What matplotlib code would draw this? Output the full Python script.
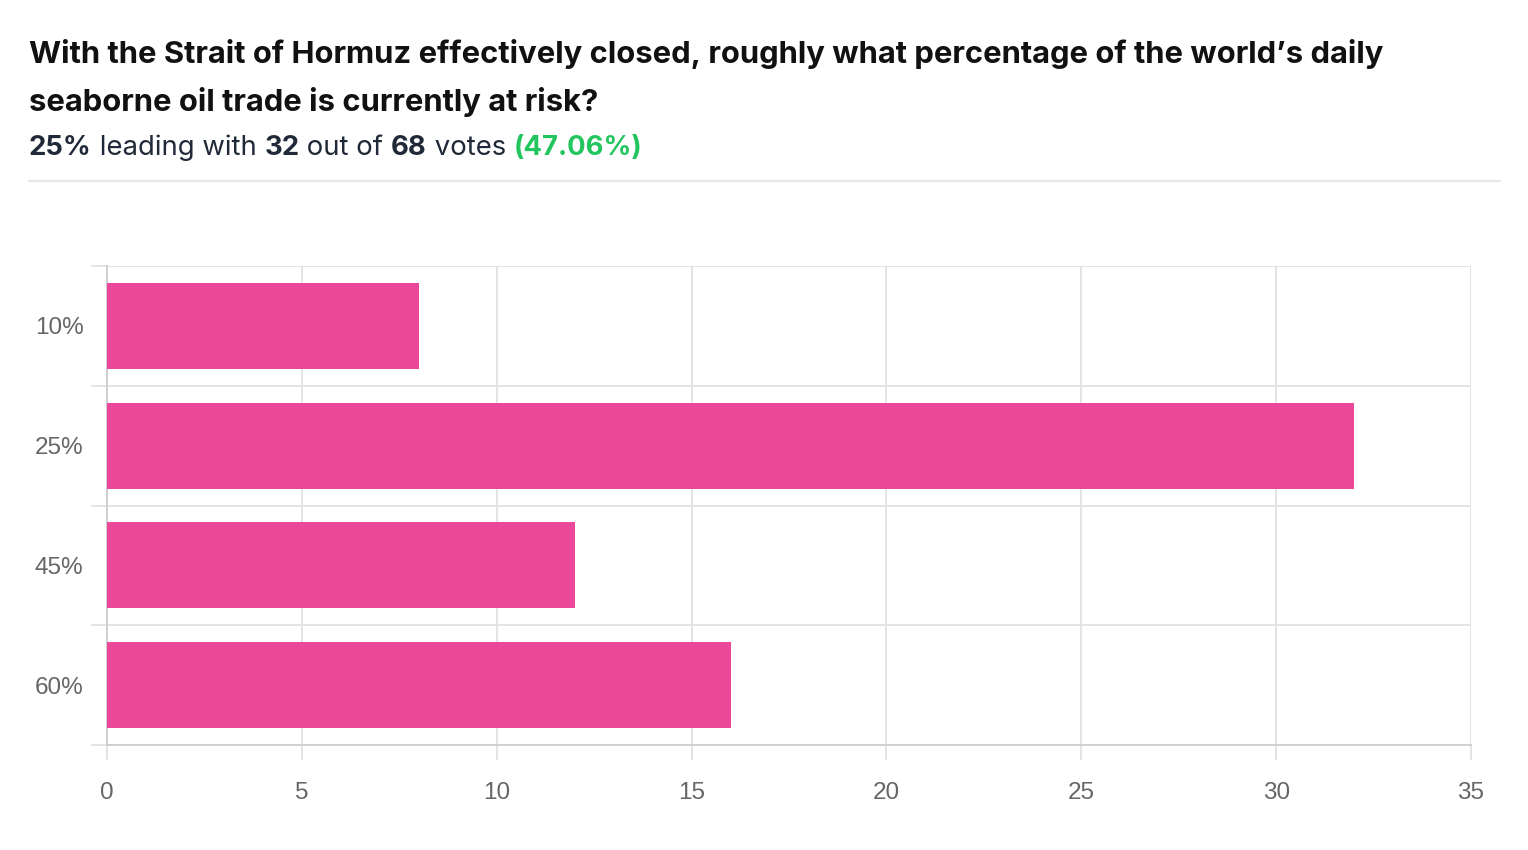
import matplotlib
matplotlib.use("Agg")
import matplotlib.pyplot as plt
import numpy as np

categories = ["10%", "25%", "45%", "60%"]
votes = [8, 32, 12, 16]
x_ticks = [0, 5, 10, 15, 20, 25, 30, 35]

title_lines = ["With the Strait of Hormuz effectively closed, roughly what percentage of the world\u2019s daily",
               "seaborne oil trade is currently at risk?"]
leader = categories[int(np.argmax(votes))]
top_votes = max(votes)
total = sum(votes)
pct = f"({top_votes / total * 100:.2f}%)"

W, H = 1528, 850
fig = plt.figure(figsize=(W / 100, H / 100), dpi=100)
fig.patch.set_facecolor("white")

BAR = "#EC4899"
GRID = "#e4e4e4"
SPINE = "#cfcfcf"
LABEL = "#666666"

ax = fig.add_axes([107 / W, 1 - 745 / H, (1471 - 107) / W, (745 - 266) / H])
y = np.arange(len(categories))
ax.barh(y, votes, height=0.72, color=BAR, zorder=3)
ax.set_xlim(0, 35)
ax.set_ylim(len(categories) - 0.5, -0.5)

ax.set_xticks(x_ticks)
ax.set_xticklabels([str(t) for t in x_ticks])
ax.set_yticks(y)
ax.set_yticklabels(categories)
ax.set_yticks(np.arange(-0.5, len(categories), 1.0), minor=True)

for s in ["top", "right"]:
    ax.spines[s].set_visible(False)
ax.spines["left"].set_color(SPINE)
ax.spines["bottom"].set_color(SPINE)
ax.spines["left"].set_linewidth(1.4)
ax.spines["bottom"].set_linewidth(1.4)

ax.grid(axis="x", which="major", color=GRID, linewidth=1.4, zorder=0)
ax.grid(axis="y", which="minor", color=GRID, linewidth=1.4, zorder=0)
ax.grid(axis="y", which="major", visible=False)

ax.tick_params(axis="x", which="major", length=11, width=1.4, color=GRID, pad=15.5,
               labelsize=17.5, labelcolor=LABEL)
ax.tick_params(axis="y", which="major", length=0, pad=17, labelsize=17.5, labelcolor=LABEL)
ax.tick_params(axis="y", which="minor", length=11.5, width=1.4, color=GRID)
for lab in ax.get_xticklabels() + ax.get_yticklabels():
    lab.set_fontfamily("Liberation Sans")

# Title
title_font = dict(family="Inter", weight="bold", size=22.3, color="#111111")
fig.text(29 / W, 1 - 63 / H, title_lines[0], va="baseline", ha="left", **title_font)
fig.text(29 / W, 1 - 111 / H, title_lines[1], va="baseline", ha="left", **title_font)

# Subtitle with mixed styles
renderer = fig.canvas.get_renderer()
parts = [(leader, "bold", "#1f2937"), (" leading with ", "normal", "#1f2937"),
         (str(top_votes), "bold", "#1f2937"), (" out of ", "normal", "#1f2937"),
         (str(total), "bold", "#1f2937"), (" votes ", "normal", "#1f2937"),
         (pct, "bold", "#22C55E")]
xpix = 29
for txt, wt, col in parts:
    t = fig.text(xpix / W, 1 - 155 / H, txt, va="baseline", ha="left", family="Inter",
                 weight=wt, size=19.8, color=col)
    bb = t.get_window_extent(renderer=renderer)
    xpix += bb.width

# separator
fig.add_artist(plt.Line2D([29 / W, 1500 / W], [1 - 181 / H, 1 - 181 / H],
                          color="#e5e7eb", linewidth=1.5, transform=fig.transFigure))

fig.savefig("out.png", dpi=100)
